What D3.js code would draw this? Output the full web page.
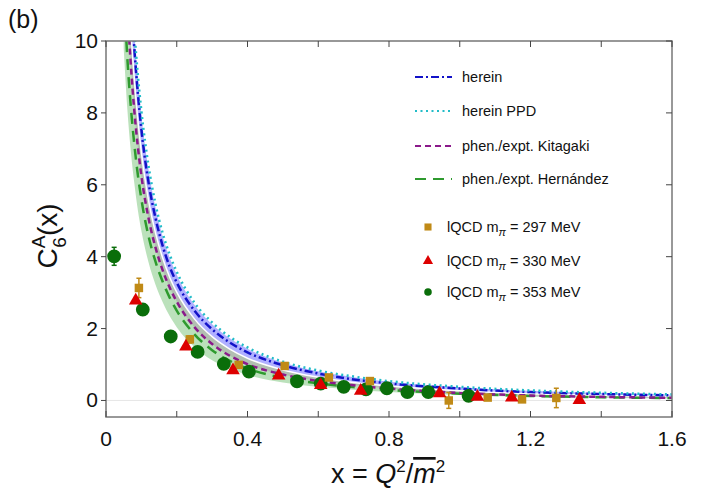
<!DOCTYPE html>
<html>
<head>
<meta charset="utf-8">
<script src="https://cdn.jsdelivr.net/npm/d3@7"></script>
<style>
  body { margin: 0; background: #fff; }
  text { font-family: "Liberation Sans", Arial, sans-serif; }
</style>
</head>
<body>
<svg id="chart" width="704" height="497"></svg>
<script>
// curve samples
const xs        = [0.05,0.06,0.07,0.08,0.09,0.10,0.12,0.14,0.16,0.18,0.20,0.25,0.30,0.35,0.40,0.50,0.60,0.70,0.80,1.00,1.20,1.40,1.60];
const herein    = [16.0,13.3,11.36,9.81,8.56,7.55,6.08,5.07,4.31,3.72,3.28,2.5,1.98,1.61,1.34,0.98,0.75,0.586,0.475,0.33,0.233,0.179,0.141];
const hereinPPD = [16.9,14.0,11.93,10.31,9.06,8.05,6.54,5.46,4.66,4.06,3.58,2.72,2.17,1.77,1.475,1.08,0.833,0.664,0.5375,0.38,0.279,0.214,0.169];
const kitagaki  = [13.4,11.08,9.36,8.06,7.06,6.25,5.08,4.25,3.625,3.14,2.75,2.04,1.57,1.243,1.01,0.72,0.542,0.421,0.331,0.21,0.1375,0.1,0.075];
const hernandez = [11.5,9.58,8.19,7.13,6.28,5.6,4.58,3.86,3.31,2.86,2.5,1.84,1.4,1.1,0.888,0.63,0.475,0.371,0.294,0.19,0.125,0.089,0.0675];
// band edges
const bandMid   = [14.7,12.19,10.36,8.94,7.81,6.9,5.58,4.66,3.97,3.43,3.015,2.27,1.775,1.43,1.175,0.85,0.646,0.5,0.403,0.27,0.185,0.14,0.108];
const blueHi    = [16.7,13.8,11.8,10.19,8.94,7.93,6.43,5.36,4.57,3.97,3.5,2.66,2.12,1.73,1.44,1.055,0.81,0.645,0.52,0.367,0.267,0.205,0.162];
const greenLo   = [9.8,8.15,6.95,6.05,5.3,4.72,3.85,3.22,2.74,2.35,2.04,1.49,1.12,0.88,0.71,0.5,0.38,0.3,0.235,0.152,0.1,0.071,0.054];

// lattice points
const q297x = [0.093,0.237,0.375,0.505,0.63,0.746,0.969,1.079,1.176,1.273];
const q297y = [3.13,1.70,0.99,0.96,0.64,0.54,0.0,0.08,0.03,0.07];
const q297e = [0.27,0.1,0.06,0.06,0.06,0.06,0.22,0.07,0.08,0.27];
const q330x = [0.084,0.226,0.359,0.488,0.607,0.72,0.943,1.05,1.147,1.338];
const q330y = [2.78,1.5,0.84,0.69,0.43,0.27,0.2,0.1,0.08,0.01];
const q353x = [0.023,0.104,0.183,0.259,0.333,0.404,0.54,0.607,0.672,0.735,0.794,0.852,0.911,1.025];
const q353y = [4.01,2.53,1.78,1.35,1.02,0.8,0.53,0.47,0.38,0.31,0.34,0.23,0.23,0.13];
const q353e = [0.25,0,0,0,0,0,0,0,0,0,0,0,0,0];

const xTicks = [0,0.2,0.4,0.6,0.8,1.0,1.2,1.4,1.6];
const yTicks = [0,2,4,6,8,10];

const svg = d3.select("#chart");
const x = d3.scaleLinear().domain([0,1.6]).range([106,672]);
const y = d3.scaleLinear().domain([-0.46,10]).range([417,41]);

svg.append("defs").append("clipPath").attr("id","plot")
  .append("rect").attr("x",106).attr("y",41).attr("width",566).attr("height",376);

const g = svg.append("g").attr("clip-path","url(#plot)");

// zero line
g.append("line").attr("x1",x(0)).attr("x2",x(1.6)).attr("y1",y(0)).attr("y2",y(0))
  .attr("stroke","#e6e6e6").attr("stroke-width",1);

const pts = arr => xs.map((v,i) => [v, arr[i]]);
const area = (lo, hi) => d3.area().x((d,i) => x(xs[i])).y0((d,i) => y(lo[i])).y1((d,i) => y(hi[i]))
  .curve(d3.curveMonotoneX)(xs);
const line = d3.line().x(d => x(d[0])).y(d => y(d[1])).curve(d3.curveMonotoneX);

g.append("path").attr("d", area(greenLo, bandMid)).attr("fill","#9ed49e").attr("opacity",0.7);
g.append("path").attr("d", area(kitagaki, bandMid)).attr("fill","#a070a0").attr("opacity",0.3);
g.append("path").attr("d", area(bandMid, blueHi)).attr("fill","#7c7cff").attr("opacity",0.6);
g.append("path").attr("d", line(pts(bandMid))).attr("fill","none").attr("stroke","#fff").attr("stroke-width",1.5);

const curves = {
  hern: {name:"phen./expt. Hernández", data:hernandez, color:"#2e9a2e", dash:"11,7", w:2.5},
  kita: {name:"phen./expt. Kitagaki",  data:kitagaki,  color:"#8b1a8b", dash:"6,4",  w:2.5},
  here: {name:"herein",                data:herein,    color:"#1212c8", dash:"8,3,2,3", w:2.5},
  ppd:  {name:"herein PPD",            data:hereinPPD, color:"#22bcc8", dash:"2,3.5", w:2.5}
};
[curves.hern, curves.kita, curves.here, curves.ppd].forEach(c => {
  g.append("path").attr("d", line(pts(c.data))).attr("fill","none")
    .attr("stroke", c.color).attr("stroke-width", c.w).attr("stroke-dasharray", c.dash);
});

// error bars
function errBars(xa, ya, ea, color) {
  xa.forEach((v,i) => {
    if (!ea[i]) return;
    const cx = x(v), y1 = y(ya[i]-ea[i]), y2 = y(ya[i]+ea[i]);
    g.append("line").attr("x1",cx).attr("x2",cx).attr("y1",y1).attr("y2",y2).attr("stroke",color).attr("stroke-width",1.5);
    [y1,y2].forEach(yy => g.append("line").attr("x1",cx-2.5).attr("x2",cx+2.5).attr("y1",yy).attr("y2",yy).attr("stroke",color).attr("stroke-width",1.5));
  });
}
errBars(q297x, q297y, q297e, "#c08a16");
errBars(q353x, q353y, q353e, "#0a6e0a");

const sq = d3.symbol().type(d3.symbolSquare).size(72);
const tri = d3.symbol().type(d3.symbolTriangle).size(80);
const circ = d3.symbol().type(d3.symbolCircle).size(150);

g.selectAll(".q353").data(q353x).join("path").attr("d", circ)
  .attr("transform", (d,i) => `translate(${x(d)},${y(q353y[i])})`).attr("fill","#0a6e0a");
g.selectAll(".q297").data(q297x).join("path").attr("d", sq)
  .attr("transform", (d,i) => `translate(${x(d)},${y(q297y[i])})`).attr("fill","#c08a16");
g.selectAll(".q330").data(q330x).join("path").attr("d", tri)
  .attr("transform", (d,i) => `translate(${x(d)},${y(q330y[i])})`).attr("fill","#dd0000");

// frame and ticks
svg.append("rect").attr("x",106).attr("y",41).attr("width",566).attr("height",376)
  .attr("fill","none").attr("stroke","#777").attr("stroke-width",1.5);
xTicks.forEach(t => {
  svg.append("line").attr("x1",x(t)).attr("x2",x(t)).attr("y1",417).attr("y2",411).attr("stroke","#444");
  svg.append("line").attr("x1",x(t)).attr("x2",x(t)).attr("y1",41).attr("y2",47).attr("stroke","#444");
});
yTicks.forEach(t => {
  svg.append("line").attr("x1",101).attr("x2",106).attr("y1",y(t)).attr("y2",y(t)).attr("stroke","#444");
  svg.append("line").attr("x1",672).attr("x2",666).attr("y1",y(t)).attr("y2",y(t)).attr("stroke","#444");
  svg.append("text").attr("x",98).attr("y",y(t)+7).attr("text-anchor","end")
    .attr("font-size",21).attr("fill","#111").text(t);
});
xTicks.filter((t,i) => i % 2 === 0).forEach(t => {
  svg.append("text").attr("x",x(t)).attr("y",446).attr("text-anchor","middle")
    .attr("font-size",21).attr("fill","#111").text(t === 0 ? "0" : d3.format(".1f")(t));
});

// axis titles
svg.append("text").attr("x",8).attr("y",28).attr("font-size",25).attr("fill","#111").text("(b)");
const yl = svg.append("text").attr("transform","translate(57,236) rotate(-90)")
  .attr("text-anchor","middle").attr("font-size",28).attr("fill","#111");
yl.append("tspan").text("C");
yl.append("tspan").attr("font-size",19).attr("dy",-12).text("A");
yl.append("tspan").attr("font-size",19).attr("dx",-12).attr("dy",21).text("6");
yl.append("tspan").attr("dx",1).attr("dy",-9).text("(x)");

const xl = svg.append("text").attr("x",388).attr("y",483).attr("text-anchor","middle")
  .attr("font-size",27).attr("fill","#111");
xl.append("tspan").text("x = ");
xl.append("tspan").attr("font-style","italic").text("Q");
xl.append("tspan").attr("font-size",17).attr("dy",-11).text("2");
xl.append("tspan").attr("dy",11).text("/");
xl.append("tspan").attr("font-style","italic").attr("text-decoration","overline").text("m");
xl.append("tspan").attr("font-size",17).attr("dy",-11).text("2");

// legend
const legY = [77,111,146,179];
[curves.here, curves.ppd, curves.kita, curves.hern].forEach((c,i) => {
  svg.append("line").attr("x1",415).attr("x2",452).attr("y1",legY[i]).attr("y2",legY[i])
    .attr("stroke",c.color).attr("stroke-width",2).attr("stroke-dasharray",c.dash);
  svg.append("text").attr("x",462).attr("y",legY[i]+5).attr("font-size",14.5).attr("fill","#111").text(c.name);
});
const markers = [
  {sym:d3.symbol().type(d3.symbolSquare).size(50), color:"#c08a16", label:"297 MeV", yy:227},
  {sym:d3.symbol().type(d3.symbolTriangle).size(45), color:"#dd0000", label:"330 MeV", yy:261},
  {sym:d3.symbol().type(d3.symbolCircle).size(45), color:"#0a6e0a", label:"353 MeV", yy:292}
];
markers.forEach(m => {
  svg.append("path").attr("d", m.sym).attr("transform",`translate(428,${m.yy})`).attr("fill",m.color);
  const t = svg.append("text").attr("x",447).attr("y",m.yy+5).attr("font-size",14.5).attr("fill","#111");
  t.append("tspan").text("lQCD m");
  t.append("tspan").attr("font-size",11).attr("dy",4).attr("font-style","italic").text("π");
  t.append("tspan").attr("dy",-4).text(" = " + m.label);
});
</script>
</body>
</html>
